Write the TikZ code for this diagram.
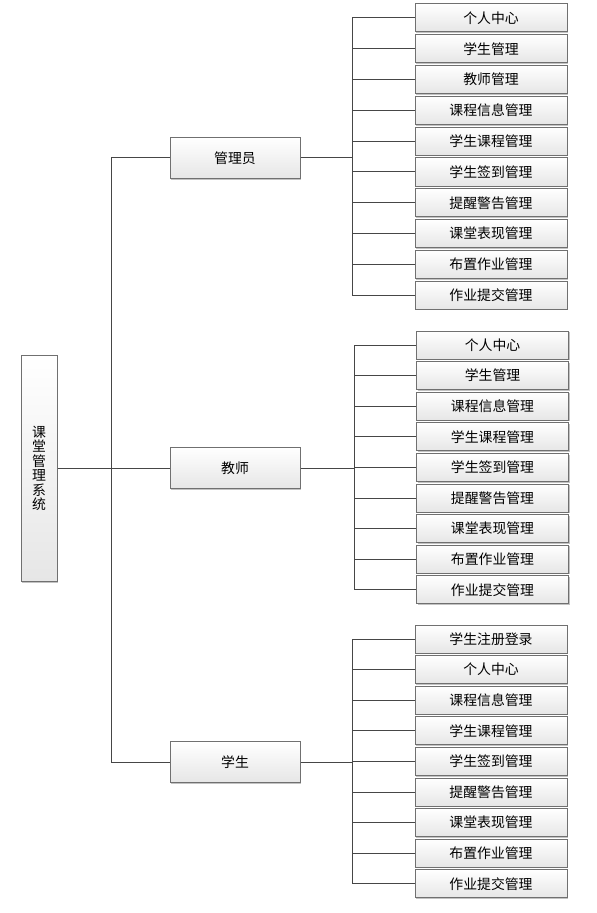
\documentclass[tikz,border=0pt]{standalone}
\usepackage{fontspec}
\setmainfont{Noto Sans CJK SC}
\usetikzlibrary{shadows}

\definecolor{boxgray}{RGB}{112,112,112}
\definecolor{boxfill}{RGB}{230,230,230}
\definecolor{linegray}{RGB}{70,70,70}

\tikzset{
  box/.style={draw=boxgray, line width=0.75, top color=white, bottom color=boxfill, inner sep=0pt,
    font=\fontsize{10.4}{12}\selectfont,
    drop shadow={shadow xshift=0.9pt, shadow yshift=-0.9pt, fill=black!40, opacity=0.6}},
  leafbox/.style={box, minimum width=114pt, minimum height=21pt},
  rolebox/.style={box, minimum width=97.5pt, minimum height=30.75pt},
  link/.style={draw=linegray, line width=0.75}
}

\begin{document}
\begin{tikzpicture}[x=0.75pt,y=0.75pt,yscale=-1,xscale=1]
  \useasboundingbox (0,0) rectangle (596,913);

  % root
  \node[box, minimum width=27pt, minimum height=170pt, align=center, font=\fontsize{10.4}{10.9}\selectfont] (root) at (39,468.5) {课\\堂\\管\\理\\系\\统};

  % roles
  \node[rolebox] (admin) at (235,158) {管理员};
  \node[rolebox] (teacher) at (235,468) {教师};
  \node[rolebox] (student) at (235,762) {学生};

  % trunk
  \coordinate (tadmin) at (111,158);
  \coordinate (tstudent) at (111,762);
  \draw[link] (root.east) -- (root.east -| tadmin);
  \draw[link] (tadmin) -- (tstudent);
  \draw[link] (tadmin) -- (admin.west);
  \draw[link] (teacher.west -| tadmin) -- (teacher.west);
  \draw[link] (tstudent) -- (student.west);

  % admin leaves
  \foreach \name [count=\i] in {个人中心,学生管理,教师管理,课程信息管理,学生课程管理,学生签到管理,提醒警告管理,课堂表现管理,布置作业管理,作业提交管理} {
    \pgfmathsetmacro\yy{18+(\i-1)*30.8}
    \node[leafbox] (a\i) at (491,\yy) {\name};
    \coordinate (ab\i) at (352,\yy);
    \draw[link] (ab\i) -- (a\i.west);
  }
  \draw[link] (ab1) -- (ab10);
  \draw[link] (admin.east) -- (admin.east -| ab1);

  % teacher leaves
  \foreach \name [count=\i] in {个人中心,学生管理,课程信息管理,学生课程管理,学生签到管理,提醒警告管理,课堂表现管理,布置作业管理,作业提交管理} {
    \pgfmathsetmacro\yy{345+(\i-1)*30.6}
    \node[leafbox] (t\i) at (492.5,\yy) {\name};
    \coordinate (tb\i) at (354,\yy);
    \draw[link] (tb\i) -- (t\i.west);
  }
  \draw[link] (tb1) -- (tb9);
  \draw[link] (teacher.east) -- (teacher.east -| tb1);

  % student leaves
  \foreach \name [count=\i] in {学生注册登录,个人中心,课程信息管理,学生课程管理,学生签到管理,提醒警告管理,课堂表现管理,布置作业管理,作业提交管理} {
    \pgfmathsetmacro\yy{639+(\i-1)*30.6}
    \node[leafbox] (s\i) at (491,\yy) {\name};
    \coordinate (sb\i) at (352,\yy);
    \draw[link] (sb\i) -- (s\i.west);
  }
  \draw[link] (sb1) -- (sb9);
  \draw[link] (student.east) -- (student.east -| sb1);

\end{tikzpicture}
\end{document}
